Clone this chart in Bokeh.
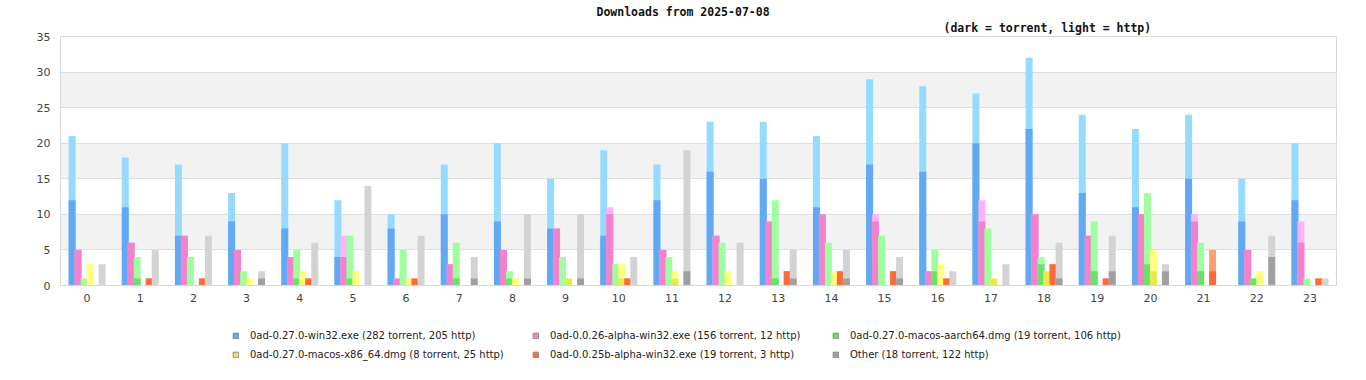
import numpy as np
from bokeh.plotting import figure
from bokeh.layouts import column
from bokeh.models import (ColumnDataSource, FixedTicker, Legend, LegendItem, Title, Range1d)
from bokeh.embed import file_html
from bokeh.resources import INLINE

# ---------------- data ----------------
hours = list(range(24))
hour_labels = [str(h) for h in hours]
chart_title = "Downloads from 2025-07-08"
chart_subtitle = "(dark = torrent, light = http)"

series_names = [
    "0ad-0.27.0-win32.exe",
    "0ad-0.0.26-alpha-win32.exe",
    "0ad-0.27.0-macos-aarch64.dmg",
    "0ad-0.27.0-macos-x86_64.dmg",
    "0ad-0.0.25b-alpha-win32.exe",
    "Other",
]

win32_torrent = [12, 11, 7, 9, 8, 4, 8, 10, 9, 8, 7, 12, 16, 15, 11, 17, 16, 20, 22, 13, 11, 15, 9, 12]
win32_http = [9, 7, 10, 4, 12, 8, 2, 7, 11, 7, 12, 5, 7, 8, 10, 12, 12, 7, 10, 11, 11, 9, 6, 8]

alpha26_torrent = [5, 6, 7, 5, 4, 4, 1, 3, 5, 8, 10, 5, 7, 9, 10, 9, 2, 9, 10, 7, 10, 9, 5, 6]
alpha26_http = [0, 0, 0, 0, 0, 3, 0, 0, 0, 0, 1, 0, 0, 0, 0, 1, 0, 3, 0, 0, 0, 1, 0, 3]

aarch64_torrent = [0, 1, 0, 0, 1, 1, 0, 1, 1, 0, 0, 0, 0, 1, 0, 0, 2, 0, 3, 2, 3, 2, 1, 0]
aarch64_http = [1, 3, 4, 2, 4, 6, 5, 5, 1, 4, 3, 4, 6, 11, 6, 7, 3, 8, 1, 7, 10, 4, 0, 1]

x86_torrent = [0, 0, 0, 0, 0, 0, 0, 0, 0, 1, 1, 1, 0, 0, 0, 0, 0, 1, 2, 0, 2, 0, 0, 0]
x86_http = [3, 0, 0, 1, 2, 2, 1, 0, 1, 0, 2, 1, 2, 0, 2, 0, 3, 0, 0, 0, 3, 0, 2, 0]

alpha25b_torrent = [0, 1, 1, 0, 1, 0, 1, 0, 0, 0, 1, 0, 0, 2, 2, 2, 1, 0, 3, 1, 0, 2, 0, 1]
alpha25b_http = [0, 0, 0, 0, 0, 0, 0, 0, 0, 0, 0, 0, 0, 0, 0, 0, 0, 0, 0, 0, 0, 3, 0, 0]

other_torrent = [0, 0, 0, 1, 0, 0, 0, 1, 1, 1, 0, 2, 0, 1, 1, 1, 0, 0, 1, 2, 2, 0, 4, 0]
other_http = [3, 5, 7, 1, 6, 14, 7, 3, 9, 9, 4, 17, 6, 4, 4, 3, 2, 3, 5, 5, 1, 0, 3, 1]

y_ticks = [0, 5, 10, 15, 20, 25, 30, 35]

torrent_series = [win32_torrent, alpha26_torrent, aarch64_torrent, x86_torrent, alpha25b_torrent, other_torrent]
http_series = [win32_http, alpha26_http, aarch64_http, x86_http, alpha25b_http, other_http]

# ---------------- style ----------------
dark_colors = ["#62a8f2", "#f282cc", "#6be06b", "#e8e850", "#ff6a3d", "#a0a0a0"]
light_colors = ["#94dbff", "#ffb3ff", "#9eff9e", "#ffff80", "#ff9e70", "#d3d3d3"]
stride = 0.1128
bar_w = 0.131
FONT = "DejaVu Sans"
W = 1350

p = figure(width=W, height=305, output_backend="svg", toolbar_location=None,
           x_range=Range1d(-0.5, 23.5), y_range=Range1d(0, 35),
           min_border_left=60, min_border_right=14, min_border_top=36, min_border_bottom=20)
p.background_fill_color = "white"
p.border_fill_color = "white"
p.outline_line_color = "#d8d8d8"

# grid
p.xgrid.visible = False
p.ygrid.grid_line_color = "#dedede"
p.ygrid.band_fill_color = "#f2f2f2"
p.ygrid.band_fill_alpha = 1.0

# axes
p.yaxis.ticker = FixedTicker(ticks=y_ticks)
p.xaxis.ticker = FixedTicker(ticks=hours)
p.xaxis.major_label_overrides = {h: lab for h, lab in zip(hours, hour_labels)}
for ax in (p.xaxis[0], p.yaxis[0]):
    ax.axis_line_color = "#d8d8d8"
    ax.major_tick_line_color = None
    ax.minor_tick_line_color = None
    ax.major_tick_out = 0
    ax.major_tick_in = 0
    ax.major_label_text_font = FONT
    ax.major_label_text_font_size = "11px"
    ax.major_label_text_color = "#444444"
p.yaxis.major_label_standoff = 10
p.xaxis.major_label_standoff = 8

# bars
sources = []
for i, (tor, htp) in enumerate(zip(torrent_series, http_series)):
    tor = np.array(tor)
    htp = np.array(htp)
    xs = np.array(hours) + (i - 2.5) * stride
    src = ColumnDataSource(dict(x=xs, total=tor + htp, torrent=tor))
    sources.append(src)
    p.vbar(x="x", top="total", bottom=0, width=bar_w, source=src,
           fill_color=light_colors[i], line_color=None)
    p.vbar(x="x", top="torrent", bottom=0, width=bar_w, source=src,
           fill_color=dark_colors[i], line_color=None)

# titles
sub = Title(text=chart_subtitle, align="left", offset=883, standoff=4,
            text_font="DejaVu Sans Mono", text_font_size="11.5px", text_font_style="bold",
            text_color="#111111")
main = Title(text=chart_title, align="left", offset=536, standoff=-4,
             text_font="DejaVu Sans Mono", text_font_size="11.5px", text_font_style="bold",
             text_color="#111111")
p.add_layout(sub, "above")
p.add_layout(main, "above")

# legend strip (separate figure below the chart). The swatch renderers are
# zero-size boxes (width 0, top == bottom), so only their legend swatches show.
q = figure(width=W, height=59, output_backend="svg", toolbar_location=None,
           x_range=Range1d(-0.5, 23.5), y_range=Range1d(100, 101),
           x_axis_location=None, y_axis_location=None,
           min_border_left=0, min_border_right=0, min_border_top=0, min_border_bottom=0)
q.xgrid.visible = False
q.ygrid.visible = False
q.outline_line_color = None
q.background_fill_color = "white"
q.border_fill_color = "white"

legend_items = []
for i, (name, tor, htp) in enumerate(zip(series_names, torrent_series, http_series)):
    proxy = q.vbar(x="x", top="torrent", bottom="torrent", width=0, source=sources[i],
                   fill_color=dark_colors[i], line_color="#8a8a8a", line_width=1)
    label = f"{name} ({sum(tor)} torrent, {sum(htp)} http)"
    legend_items.append(LegendItem(label=label, renderers=[proxy]))

legend = Legend(items=legend_items, location=(172, 4), orientation="horizontal", ncols=3,
                glyph_width=7, glyph_height=7, label_standoff=11,
                label_width=275, label_height=12, spacing=7,
                padding=0, margin=0,
                label_text_font=FONT, label_text_font_size="10px",
                label_text_color="#222222",
                border_line_color=None, background_fill_alpha=0)
q.add_layout(legend, "center")

layout = column(p, q, spacing=0)
open("out.html", "w").write(file_html(layout, INLINE))
